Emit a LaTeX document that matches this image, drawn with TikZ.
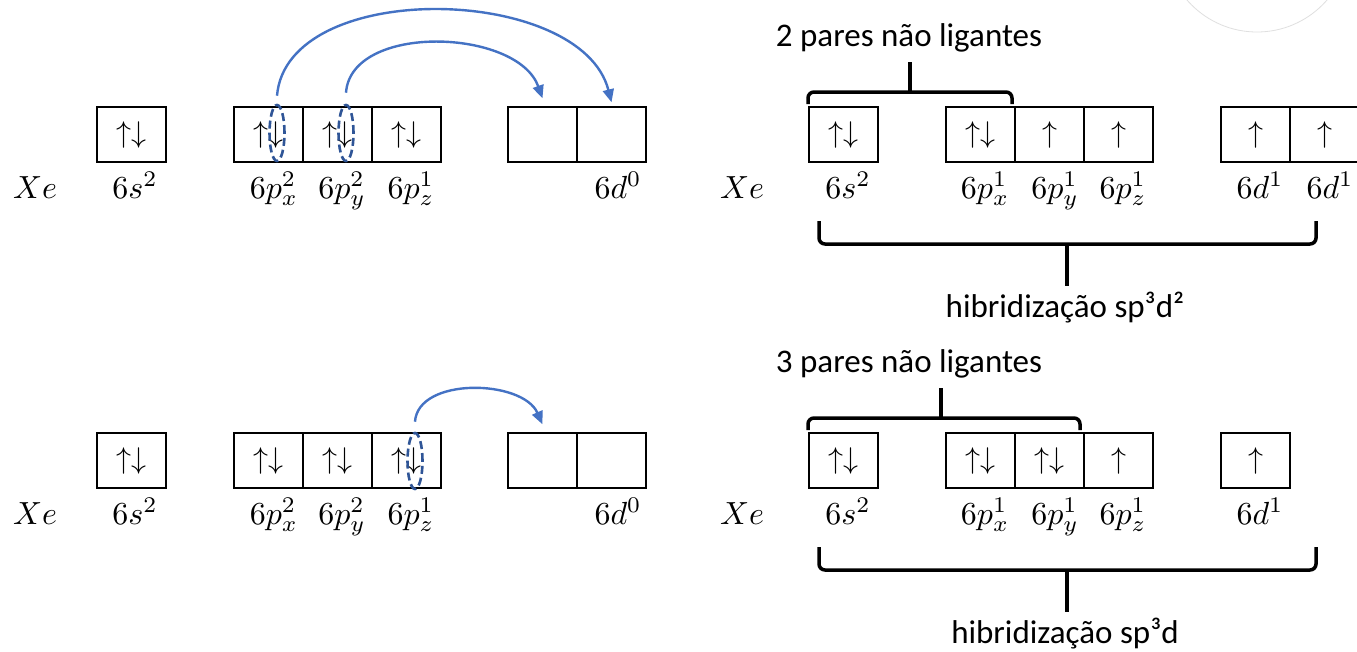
\documentclass[tikz,border=0pt]{standalone}
\usepackage{fontspec}
\setmainfont{Carlito}
\usetikzlibrary{arrows.meta,shapes.geometric}
\definecolor{arcblue}{HTML}{4472C4}
\definecolor{dashblue}{HTML}{2F5597}
\newcommand\mlab[1]{\scalebox{3.2}{$#1$}}
\newcommand\spn[1]{\scalebox{3}{$#1$}}
\begin{document}
\begin{tikzpicture}[x=1pt,y=-1pt,
  orb/.style={draw, line width=1.4pt, minimum width=69pt, minimum height=55pt, inner sep=0pt},
  lbl/.style={anchor=base, inner sep=0pt},
  txt/.style={inner sep=0pt, font=\fontsize{33}{36}\selectfont},
  brk/.style={line width=3.5pt, rounded corners=6pt},
  hole/.style={draw=dashblue, dashed, dash pattern=on 8pt off 4pt, line width=2.6pt, ellipse, minimum width=15pt, minimum height=56pt, inner sep=0pt},
  arc/.style={draw=arcblue, line width=2.4pt, -{Triangle[length=13pt,width=11pt]}}]
\useasboundingbox (0,0) rectangle (1357,651);
\fill[white] (0,0) rectangle (1357,651);
\clip (0,0) rectangle (1357,651);
\draw[black!12, line width=0.8pt] (1257,-60.6) circle (92.6);

% ===== top row, left =====
\node[lbl] (xeA) at (35,198) {\mlab{Xe}};
\node[orb] (sA) at (131.5,134.5) {\spn{\uparrow\downarrow}};
\node[orb] (pxA) at (268.5,134.5) {\spn{\uparrow\downarrow}};
\node[orb] (pyA) at (337.5,134.5) {\spn{\uparrow\downarrow}};
\node[orb] (pzA) at (406.5,134.5) {\spn{\uparrow\downarrow}};
\node[orb] (d1A) at (542.5,134.5) {};
\node[orb] (d2A) at (611.5,134.5) {};
\node[lbl] (lsA) at (135,198) {\mlab{6s^2}};
\node[lbl] (lpxA) at (274,198) {\mlab{6p_x^2}};
\node[lbl] (lpyA) at (342,198) {\mlab{6p_y^2}};
\node[lbl] (lpzA) at (411,198) {\mlab{6p_z^1}};
\node[lbl] (ldA) at (618,198) {\mlab{6d^0}};
\node[hole] (e1A) at (277,133) {};
\node[hole] (e2A) at (346,133) {};
\draw[arc] ([yshift=8pt]e1A.north) .. controls +(10,-118) and +(-30,-118) .. ([yshift=4pt]d2A.north);
\draw[arc] ([yshift=11pt]e2A.north) .. controls +(5,-70) and +(-25,-70) .. ([yshift=8pt]d1A.north);

% ===== top row, right =====
\node[lbl] (xeB) at (742,198) {\mlab{Xe}};
\node[orb] (sB) at (843.5,134.5) {\spn{\uparrow\downarrow}};
\node[orb] (pxB) at (980.5,134.5) {\spn{\uparrow\downarrow}};
\node[orb] (pyB) at (1049.5,134.5) {\spn{\uparrow}};
\node[orb] (pzB) at (1118.5,134.5) {\spn{\uparrow}};
\node[orb] (d1B) at (1255.5,134.5) {\spn{\uparrow}};
\node[orb] (d2B) at (1324.5,134.5) {\spn{\uparrow}};
\node[lbl] (lsB) at (848,198) {\mlab{6s^2}};
\node[lbl] (lpxB) at (985,198) {\mlab{6p_x^1}};
\node[lbl] (lpyB) at (1055,198) {\mlab{6p_y^1}};
\node[lbl] (lpzB) at (1123,198) {\mlab{6p_z^1}};
\node[lbl] (ld1B) at (1260,198) {\mlab{6d^1}};
\node[lbl] (ld2B) at (1330,198) {\mlab{6d^1}};
\node[txt] (pairsB) at (909,38) {2 pares não ligantes};
\draw[brk] (808,104) -- (808,92) -- (1012,92) -- (1012,104);
\draw[line width=3.5pt] (910,93) -- (910,62);
\draw[brk] (819,221) -- (819,244) -- (1316,244) -- (1316,221);
\draw[line width=3.5pt] (1067,243) -- (1067,286);
\node[txt] (hybB) at (1065,308) {hibridização sp³d²};

% ===== bottom row, left =====
\node[lbl] (xeC) at (35,524) {\mlab{Xe}};
\node[orb] (sC) at (131.5,460.5) {\spn{\uparrow\downarrow}};
\node[orb] (pxC) at (268.5,460.5) {\spn{\uparrow\downarrow}};
\node[orb] (pyC) at (337.5,460.5) {\spn{\uparrow\downarrow}};
\node[orb] (pzC) at (406.5,460.5) {\spn{\uparrow\downarrow}};
\node[orb] (d1C) at (542.5,460.5) {};
\node[orb] (d2C) at (611.5,460.5) {};
\node[lbl] (lsC) at (135,524) {\mlab{6s^2}};
\node[lbl] (lpxC) at (274,524) {\mlab{6p_x^2}};
\node[lbl] (lpyC) at (342,524) {\mlab{6p_y^2}};
\node[lbl] (lpzC) at (411,524) {\mlab{6p_z^1}};
\node[lbl] (ldC) at (618,524) {\mlab{6d^0}};
\node[hole] (e1C) at (415,461) {};
\draw[arc] ([yshift=10pt]e1C.north) .. controls +(3,-45) and +(-20,-45) .. ([yshift=8pt]d1C.north);

% ===== bottom row, right =====
\node[lbl] (xeD) at (742,524) {\mlab{Xe}};
\node[orb] (sD) at (843.5,460.5) {\spn{\uparrow\downarrow}};
\node[orb] (pxD) at (980.5,460.5) {\spn{\uparrow\downarrow}};
\node[orb] (pyD) at (1049.5,460.5) {\spn{\uparrow\downarrow}};
\node[orb] (pzD) at (1118.5,460.5) {\spn{\uparrow}};
\node[orb] (d1D) at (1255.5,460.5) {\spn{\uparrow}};
\node[lbl] (lsD) at (848,524) {\mlab{6s^2}};
\node[lbl] (lpxD) at (985,524) {\mlab{6p_x^1}};
\node[lbl] (lpyD) at (1055,524) {\mlab{6p_y^1}};
\node[lbl] (lpzD) at (1123,524) {\mlab{6p_z^1}};
\node[lbl] (ld1D) at (1260,524) {\mlab{6d^1}};
\node[txt] (pairsD) at (909,364) {3 pares não ligantes};
\draw[brk] (808,430) -- (808,418) -- (1080,418) -- (1080,430);
\draw[line width=3.5pt] (941,419) -- (941,388);
\draw[brk] (819,547) -- (819,570) -- (1316,570) -- (1316,547);
\draw[line width=3.5pt] (1067,569) -- (1067,612);
\node[txt] (hybD) at (1065,634) {hibridização sp³d};
\end{tikzpicture}
\end{document}
